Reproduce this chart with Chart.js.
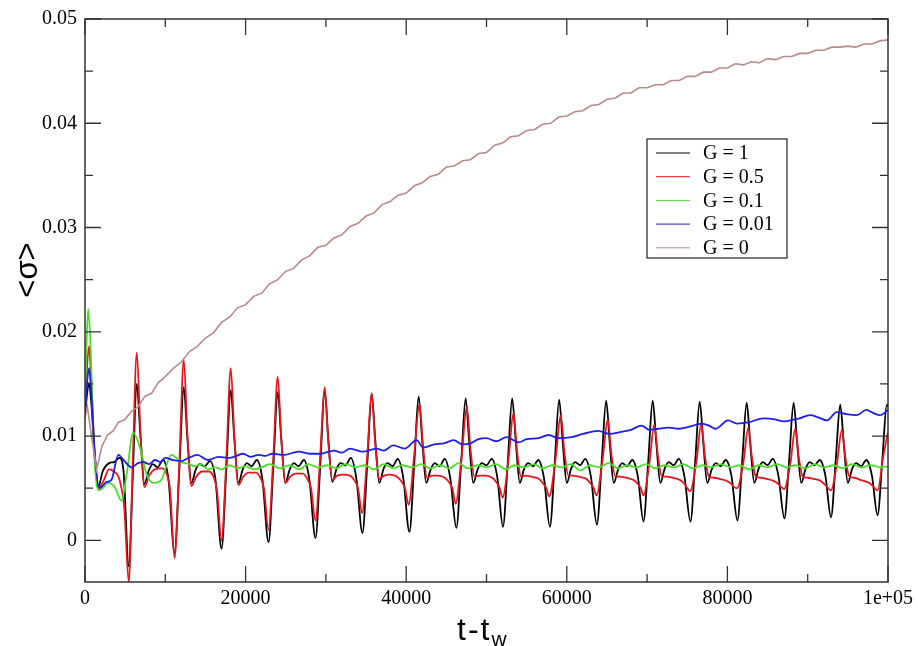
<!DOCTYPE html>
<html>
<head>
<meta charset="utf-8">
<script src="https://cdn.jsdelivr.net/npm/chart.js@4"></script>
<style>
html, body { margin: 0; padding: 0; background: #fff; }
</style>
</head>
<body>
<canvas id="chart" width="918" height="646"></canvas>
<script>
// series: time (t - t_w) and <sigma>
const seriesLabels = ['G = 1', 'G = 0.5', 'G = 0.1', 'G = 0.01', 'G = 0'];
const xTickVals = [0, 20000, 40000, 60000, 80000, 100000];
const yTickVals = [0, 0.01, 0.02, 0.03, 0.04, 0.05];

// G = 1
const tG1 = [0, 250, 500, 800, 1200, 1650, 2200, 3000, 3600, 4300, 4800, 5450, 5950, 6450,
  6900, 7400, 7950, 8450, 9050, 9700, 10400, 11150, 11750, 12300,
  12750, 13250, 13800, 14300, 14900, 15550, 16250, 17000, 17600, 18150,
  18600, 19100, 19650, 20150, 20750, 21400, 22100, 22850, 23450, 24000,
  24450, 24950, 25500, 26000, 26600, 27250, 27950, 28700, 29300, 29850,
  30300, 30800, 31350, 31850, 32450, 33100, 33800, 34550, 35150, 35700,
  36150, 36650, 37200, 37700, 38300, 38950, 39650, 40400, 41000, 41550,
  42000, 42500, 43050, 43550, 44150, 44800, 45500, 46250, 46850, 47400,
  47850, 48350, 48900, 49400, 50000, 50650, 51350, 52050, 52650, 53200,
  53650, 54150, 54700, 55200, 55800, 56450, 57150, 57900, 58500, 59050,
  59500, 60000, 60550, 61050, 61650, 62300, 63000, 63750, 64350, 64900,
  65350, 65850, 66400, 66900, 67500, 68150, 68850, 69550, 70150, 70700,
  71150, 71650, 72200, 72700, 73300, 73950, 74650, 75400, 76000, 76550,
  77000, 77500, 78050, 78550, 79150, 79800, 80500, 81250, 81850, 82400,
  82850, 83350, 83900, 84400, 85000, 85650, 86350, 87100, 87700, 88250,
  88700, 89200, 89750, 90250, 90850, 91500, 92200, 92900, 93500, 94050,
  94500, 95000, 95550, 96050, 96650, 97300, 98000, 98700, 99300, 99850, 100000];
const vG1 = [0.0118, 0.0140, 0.0151, 0.0130, 0.0082, 0.0051, 0.0066, 0.0074, 0.0075, 0.0079, 0.0066, -0.0025, 0.0062, 0.0150,
  0.0100, 0.0054, 0.0067, 0.0073, 0.0070, 0.0077, 0.0058, -0.0012, 0.0068, 0.0147,
  0.0098, 0.0055, 0.0068, 0.0073, 0.0071, 0.0076, 0.0058, -0.0008, 0.0068, 0.0144,
  0.0097, 0.0055, 0.0068, 0.0074, 0.0071, 0.0077, 0.0058, -0.0002, 0.0070, 0.0142,
  0.0096, 0.0055, 0.0068, 0.0074, 0.0071, 0.0077, 0.0058, 0.0002, 0.0072, 0.0144,
  0.0097, 0.0056, 0.0069, 0.0074, 0.0072, 0.0079, 0.0059, 0.0007, 0.0073, 0.0141,
  0.0096, 0.0055, 0.0069, 0.0074, 0.0071, 0.0078, 0.0059, 0.0008, 0.0073, 0.0138,
  0.0095, 0.0055, 0.0068, 0.0074, 0.0071, 0.0078, 0.0059, 0.0012, 0.0075, 0.0136,
  0.0094, 0.0055, 0.0068, 0.0074, 0.0072, 0.0078, 0.0060, 0.0013, 0.0075, 0.0136,
  0.0094, 0.0055, 0.0069, 0.0074, 0.0071, 0.0077, 0.0060, 0.0013, 0.0075, 0.0135,
  0.0093, 0.0055, 0.0069, 0.0075, 0.0072, 0.0078, 0.0061, 0.0015, 0.0076, 0.0134,
  0.0093, 0.0055, 0.0068, 0.0074, 0.0071, 0.0077, 0.0061, 0.0018, 0.0077, 0.0134,
  0.0093, 0.0055, 0.0069, 0.0075, 0.0072, 0.0078, 0.0061, 0.0018, 0.0077, 0.0133,
  0.0093, 0.0055, 0.0068, 0.0074, 0.0071, 0.0077, 0.0062, 0.0019, 0.0077, 0.0132,
  0.0092, 0.0055, 0.0069, 0.0075, 0.0072, 0.0078, 0.0062, 0.0021, 0.0078, 0.0132,
  0.0092, 0.0055, 0.0069, 0.0075, 0.0072, 0.0077, 0.0062, 0.0022, 0.0078, 0.0130,
  0.0092, 0.0055, 0.0069, 0.0074, 0.0071, 0.0077, 0.0062, 0.0024, 0.0078, 0.0130, 0.0128];

// G = 0.5
const tG05 = [0, 250, 500, 800, 1200, 1700, 2300, 3000, 3600, 4300, 4900, 5450, 5950, 6450,
  6900, 7400, 8000, 8700, 9600, 10200, 10600, 11150, 11750, 12300,
  12750, 13250, 13850, 14550, 15450, 16050, 16450, 17000, 17600, 18150,
  18600, 19100, 19700, 20400, 21300, 21900, 22300, 22850, 23450, 24000,
  24450, 24950, 25550, 26250, 27150, 27750, 28150, 28700, 29300, 29850,
  30300, 30800, 31400, 32100, 33000, 33600, 34000, 34500, 35150, 35700,
  36150, 36650, 37250, 37950, 38850, 39450, 39850, 40300, 41000, 41650,
  42100, 42600, 43200, 43900, 44800, 45400, 45750, 46150, 46900, 47550,
  48000, 48500, 49100, 49800, 50700, 51300, 51650, 52000, 52750, 53350,
  53800, 54300, 54900, 55600, 56500, 57100, 57450, 57800, 58600, 59250,
  59700, 60200, 60800, 61500, 62400, 63000, 63350, 63700, 64450, 65100,
  65550, 66050, 66650, 67350, 68250, 68850, 69200, 69550, 70300, 70900,
  71350, 71850, 72450, 73150, 74050, 74650, 75000, 75350, 76150, 76750,
  77200, 77700, 78300, 79000, 79900, 80500, 80850, 81200, 82000, 82600,
  83050, 83550, 84150, 84850, 85750, 86350, 86700, 87050, 87850, 88450,
  88900, 89400, 90000, 90700, 91600, 92200, 92550, 92900, 93650, 94250,
  94700, 95200, 95800, 96500, 97400, 98000, 98350, 98700, 99400, 100000];
const vG05 = [0.0118, 0.0165, 0.0186, 0.0150, 0.0085, 0.0050, 0.0057, 0.0068, 0.0066, 0.0058, 0.0030, -0.0040, 0.0075, 0.0180,
  0.0105, 0.0051, 0.0062, 0.0068, 0.0069, 0.0063, 0.0048, -0.0017, 0.0075, 0.0173,
  0.0102, 0.0052, 0.0061, 0.0066, 0.0066, 0.0060, 0.0047, 0.0000, 0.0078, 0.0165,
  0.0100, 0.0053, 0.0061, 0.0065, 0.0065, 0.0059, 0.0049, 0.0010, 0.0080, 0.0157,
  0.0098, 0.0055, 0.0061, 0.0064, 0.0064, 0.0058, 0.0050, 0.0019, 0.0082, 0.0147,
  0.0094, 0.0058, 0.0062, 0.0063, 0.0062, 0.0057, 0.0050, 0.0026, 0.0082, 0.0141,
  0.0092, 0.0059, 0.0062, 0.0063, 0.0061, 0.0056, 0.0050, 0.0034, 0.0082, 0.0131,
  0.0090, 0.0060, 0.0062, 0.0062, 0.0060, 0.0055, 0.0050, 0.0035, 0.0080, 0.0128,
  0.0088, 0.0061, 0.0062, 0.0062, 0.0060, 0.0055, 0.0050, 0.0041, 0.0078, 0.0122,
  0.0086, 0.0061, 0.0062, 0.0061, 0.0059, 0.0054, 0.0050, 0.0042, 0.0078, 0.0120,
  0.0085, 0.0062, 0.0062, 0.0061, 0.0059, 0.0054, 0.0050, 0.0043, 0.0077, 0.0116,
  0.0083, 0.0061, 0.0061, 0.0060, 0.0058, 0.0054, 0.0050, 0.0043, 0.0075, 0.0111,
  0.0081, 0.0061, 0.0061, 0.0060, 0.0058, 0.0054, 0.0050, 0.0047, 0.0076, 0.0112,
  0.0081, 0.0061, 0.0060, 0.0059, 0.0057, 0.0054, 0.0051, 0.0050, 0.0075, 0.0108,
  0.0080, 0.0061, 0.0060, 0.0059, 0.0057, 0.0054, 0.0051, 0.0049, 0.0074, 0.0107,
  0.0079, 0.0061, 0.0060, 0.0059, 0.0057, 0.0053, 0.0050, 0.0048, 0.0074, 0.0106,
  0.0079, 0.0061, 0.0060, 0.0058, 0.0056, 0.0053, 0.0050, 0.0048, 0.0080, 0.0104];

// G = 0.1
const tG01 = [0, 200, 400, 700, 1100, 1600, 2200, 2900, 3700, 4550, 5200, 6000, 6850, 7650, 8500, 9500, 10750,
  12000, 13000, 13700, 14500, 15300, 16200, 17000, 18000, 19000, 20000, 21000, 22000,
  23000, 24300, 25500, 26700, 27800, 29000, 30200, 31300, 32500, 33700, 34800, 36000,
  37200, 38400, 39500, 40700, 41900, 43000, 44200, 45400, 46500, 47700, 48900, 50000,
  51200, 52400, 53500, 54700, 55900, 57000, 58200, 59400, 60500, 61700, 62900, 64000,
  65200, 66400, 67500, 68700, 69900, 71000, 72200, 73400, 74500, 75700, 76900, 78000,
  79200, 80400, 81500, 82700, 83900, 85000, 86200, 87400, 88500, 89700, 90900, 92000,
  93200, 94400, 95500, 96700, 97900, 99000, 100000];
const vG01 = [0.0120, 0.0190, 0.0222, 0.0185, 0.0090, 0.0048, 0.0050, 0.0055, 0.0051, 0.0038, 0.0064, 0.0103, 0.0089, 0.0064, 0.0055, 0.0058, 0.0082,
  0.0075, 0.0073, 0.0071, 0.0073, 0.0068, 0.0070, 0.0068, 0.0072, 0.0069, 0.0071, 0.0068, 0.0070,
  0.0073, 0.0069, 0.0072, 0.0068, 0.0073, 0.0070, 0.0072, 0.0069, 0.0073, 0.0070, 0.0072, 0.0068,
  0.0073, 0.0069, 0.0072, 0.0070, 0.0073, 0.0069, 0.0072, 0.0069, 0.0074, 0.0069, 0.0072, 0.0070,
  0.0073, 0.0068, 0.0072, 0.0070, 0.0073, 0.0069, 0.0072, 0.0070, 0.0073, 0.0067, 0.0072, 0.0070,
  0.0074, 0.0069, 0.0072, 0.0070, 0.0073, 0.0069, 0.0072, 0.0070, 0.0073, 0.0069, 0.0072, 0.0070,
  0.0073, 0.0070, 0.0072, 0.0068, 0.0072, 0.0070, 0.0073, 0.0070, 0.0072, 0.0069, 0.0073, 0.0070,
  0.0072, 0.0069, 0.0073, 0.0070, 0.0072, 0.0070, 0.0071];

// G = 0.01
const tG001 = [0, 250, 500, 800, 1200, 1800, 2700, 3300, 4150, 4800, 5800, 6600, 7300, 8000, 8700, 9400, 10000,
  11000, 12000, 12900, 14000, 15300, 16600, 18000, 19700, 20600, 21600, 22500, 23300, 24800, 26600,
  28000, 29300, 31000, 32000, 33000, 34600, 36300, 37200, 38400, 39800, 41300, 42100, 43500, 44700,
  45900, 47000, 48000, 49000, 50000, 51200, 52500, 54000, 55000, 56500, 57700, 59000, 60600, 62000,
  63900, 65300, 66800, 68000, 69300, 70300, 71400, 72700, 73900, 75300, 76800, 77700, 78500, 80100,
  81200, 82600, 84500, 85900, 87000, 87800, 89000, 90300, 91300, 92400, 93600, 94800, 96100, 97300,
  98200, 99000, 100000];
const vG001 = [0.0120, 0.0150, 0.0165, 0.0140, 0.0085, 0.0050, 0.0056, 0.0058, 0.0082, 0.0077, 0.0070, 0.0074, 0.0075, 0.0073, 0.0077, 0.0075, 0.0079,
  0.0077, 0.0076, 0.0079, 0.0082, 0.0077, 0.0080, 0.0079, 0.0083, 0.0080, 0.0082, 0.0081, 0.0083, 0.0082, 0.0085,
  0.0083, 0.0083, 0.0086, 0.0084, 0.0088, 0.0085, 0.0088, 0.0086, 0.0091, 0.0088, 0.0096, 0.0089, 0.0092, 0.0093,
  0.0096, 0.0092, 0.0093, 0.0097, 0.0098, 0.0095, 0.0099, 0.0094, 0.0097, 0.0098, 0.0101, 0.0098, 0.0099, 0.0102,
  0.0105, 0.0102, 0.0104, 0.0106, 0.0110, 0.0106, 0.0107, 0.0108, 0.0107, 0.0109, 0.0112, 0.0110, 0.0107, 0.0115,
  0.0112, 0.0113, 0.0117, 0.0116, 0.0114, 0.0115, 0.0117, 0.0120, 0.0118, 0.0115, 0.0123, 0.0121, 0.0120, 0.0125,
  0.0122, 0.0120, 0.0125];

// G = 0 (noisy, slowly saturating)
const tG0 = [0, 300, 800, 1450, 2100, 2800, 3500, 4150, 5000, 5800, 6600, 7450, 8300, 9100,
  10000, 11000, 12000, 13000, 14000, 15000, 16000, 17000, 18000, 19000,
  20000, 21000, 22000, 23000, 24000, 25000, 26000, 27000, 28000, 29000,
  30000, 31000, 32000, 33000, 34000, 35000, 36000, 37000, 38000, 39000,
  40000, 41000, 42000, 43000, 44000, 45000, 46000, 47000, 48000, 49000,
  50000, 51000, 52000, 53000, 54000, 55000, 56000, 57000, 58000, 59000,
  60000, 61000, 62000, 63000, 64000, 65000, 66000, 67000, 68000, 69000,
  70000, 71000, 72000, 73000, 74000, 75000, 76000, 77000, 78000, 79000,
  80000, 81000, 82000, 83000, 84000, 85000, 86000, 87000, 88000, 89000,
  90000, 91000, 92000, 93000, 94000, 95000, 96000, 97000, 98000, 99000, 100000];
const vG0 = [0.0120, 0.0128, 0.0100, 0.0068, 0.0090, 0.0101, 0.0105, 0.0113, 0.0116, 0.0124, 0.0128, 0.0138, 0.0141, 0.0151,
  0.0157, 0.0165, 0.0171, 0.0181, 0.0186, 0.0194, 0.0199, 0.0209, 0.0214, 0.0223,
  0.0226, 0.0234, 0.0237, 0.0246, 0.0250, 0.0258, 0.0261, 0.0269, 0.0273, 0.0281,
  0.0283, 0.0290, 0.0293, 0.0301, 0.0304, 0.0311, 0.0314, 0.0322, 0.0325, 0.0331,
  0.0333, 0.0340, 0.0343, 0.0349, 0.0351, 0.0358, 0.0359, 0.0364, 0.0365, 0.0371,
  0.0372, 0.0379, 0.0381, 0.0387, 0.0388, 0.0393, 0.0394, 0.0399, 0.0400, 0.0406,
  0.0407, 0.0411, 0.0412, 0.0417, 0.0418, 0.0423, 0.0424, 0.0429, 0.0429, 0.0434,
  0.0434, 0.0437, 0.0437, 0.0441, 0.0441, 0.0445, 0.0445, 0.0449, 0.0449, 0.0453,
  0.0453, 0.0457, 0.0456, 0.0459, 0.0458, 0.0462, 0.0461, 0.0464, 0.0464, 0.0467,
  0.0467, 0.0470, 0.0470, 0.0473, 0.0473, 0.0474, 0.0473, 0.0476, 0.0476, 0.0479, 0.0480];

const lineColors = ['#000000', 'rgb(232,22,28)', 'rgb(72,222,40)', 'rgb(30,30,232)', 'rgb(184,138,138)'];

function toPoints(ts, vs) {
  return ts.map((t, i) => ({ x: t, y: vs[i] }));
}

const allT = [tG1, tG05, tG01, tG001, tG0];
const allV = [vG1, vG05, vG01, vG001, vG0];

const datasets = seriesLabels.map((name, i) => ({
  label: name,
  data: toPoints(allT[i], allV[i]),
  borderColor: lineColors[i],
  borderWidth: i === 4 ? 1.6 : 1.8,
  pointRadius: 0,
  cubicInterpolationMode: i === 4 ? 'default' : 'monotone',
  tension: 0,
  order: 5 - i   // later series drawn on top, like the original
}));

const tickFont = { family: "'Liberation Serif', 'Times New Roman', serif", size: 20 };

// frame, inward ticks, legend box and axis titles
const decorations = {
  id: 'decorations',
  afterDatasetsDraw(chart) {
    const { ctx, chartArea: a, scales: { x, y } } = chart;
    ctx.save();
    ctx.strokeStyle = '#333';
    ctx.lineWidth = 1.5;
    ctx.strokeRect(a.left, a.top, a.right - a.left, a.bottom - a.top);

    ctx.lineWidth = 1.3;
    ctx.beginPath();
    for (let v = 0; v <= 100000; v += 10000) {
      const px = x.getPixelForValue(v);
      const len = v % 20000 === 0 ? 16 : 8;
      ctx.moveTo(px, a.bottom); ctx.lineTo(px, a.bottom - len);
      ctx.moveTo(px, a.top); ctx.lineTo(px, a.top + len);
    }
    for (let k = 0; k <= 10; k++) {
      const py = y.getPixelForValue(k * 0.005);
      const len = k % 2 === 0 ? 16 : 8;
      ctx.moveTo(a.left, py); ctx.lineTo(a.left + len, py);
      ctx.moveTo(a.right, py); ctx.lineTo(a.right - len, py);
    }
    ctx.stroke();

    // legend
    const bx = 647, by = 139, bw = 140, bh = 119;
    ctx.fillStyle = '#fff';
    ctx.fillRect(bx, by, bw, bh);
    ctx.strokeStyle = '#222';
    ctx.lineWidth = 1.2;
    ctx.strokeRect(bx, by, bw, bh);
    ctx.font = "20px 'Liberation Serif', serif";
    ctx.textBaseline = 'middle';
    ctx.textAlign = 'left';
    seriesLabels.forEach((name, i) => {
      const ry = by + 14 + i * 23.7;
      ctx.strokeStyle = lineColors[i];
      ctx.lineWidth = 1;
      ctx.beginPath();
      ctx.moveTo(bx + 9, ry); ctx.lineTo(bx + 43, ry);
      ctx.stroke();
      ctx.fillStyle = '#000';
      ctx.fillText(name, bx + 56, ry + 1);
    });

    // x title: t-t with subscript w
    ctx.fillStyle = '#000';
    ctx.textBaseline = 'alphabetic';
    if ('letterSpacing' in ctx) ctx.letterSpacing = '2px';
    ctx.font = "32px 'Liberation Sans', Arial, sans-serif";
    const main = 't-t';
    const mw = ctx.measureText(main).width;
    const x0 = 457;
    ctx.fillText(main, x0, 640);
    ctx.font = "21px 'Liberation Sans', Arial, sans-serif";
    ctx.fillText('w', x0 + mw, 646);
    if ('letterSpacing' in ctx) ctx.letterSpacing = '0px';

    // y title
    ctx.translate(28, 270);
    ctx.rotate(-Math.PI / 2);
    ctx.textAlign = 'center';
    ctx.textBaseline = 'middle';
    ctx.font = "31px 'Liberation Sans', Arial, sans-serif";
    ctx.fillText('<σ>', 0, 0);
    ctx.restore();
  }
};

new Chart(document.getElementById('chart'), {
  type: 'line',
  data: { datasets: datasets },
  options: {
    responsive: false,
    animation: false,
    layout: { padding: { top: 19, right: 30, left: 0, bottom: 0 } },
    plugins: { legend: { display: false }, tooltip: { enabled: false } },
    scales: {
      x: {
        type: 'linear',
        min: 0,
        max: 100000,
        grid: { display: false, drawTicks: false },
        border: { display: false },
        ticks: {
          font: tickFont,
          color: '#000',
          padding: 5,
          maxRotation: 0,
          autoSkip: false,
          callback: v => (v === 100000 ? '1e+05' : String(v))
        },
        afterBuildTicks: s => { s.ticks = xTickVals.map(v => ({ value: v })); },
        afterFit: s => { s.height = 64; s.paddingLeft = 0; s.paddingRight = 0; }
      },
      y: {
        type: 'linear',
        min: -0.004,
        max: 0.05,
        grid: { display: false, drawTicks: false },
        border: { display: false },
        ticks: {
          font: tickFont,
          color: '#000',
          padding: 8,
          callback: v => (v === 0 ? '0' : v.toFixed(2))
        },
        afterBuildTicks: s => { s.ticks = yTickVals.map(v => ({ value: v })); },
        afterFit: s => { s.width = 85; s.paddingTop = 0; s.paddingBottom = 0; }
      }
    }
  },
  plugins: [decorations]
});
</script>
</body>
</html>
